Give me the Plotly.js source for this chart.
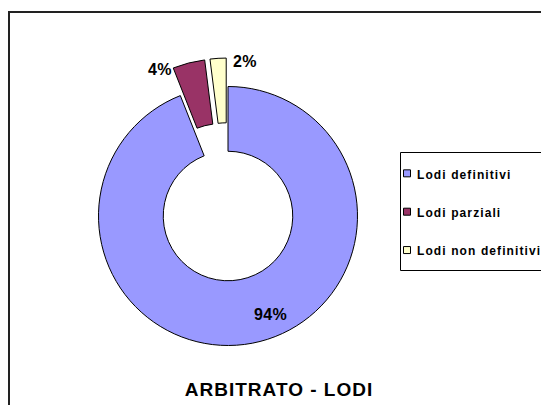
<!DOCTYPE html>
<html><head><meta charset="utf-8">
<script src="https://cdn.plot.ly/plotly-3.0.1.min.js"></script>
<style>
html,body{margin:0;padding:0;background:#fff;}
#chart{width:541px;height:405px;}
.legendtext{letter-spacing:1.1px;font-weight:bold !important;}
.gtitle{letter-spacing:1px;}
.annotation-text{letter-spacing:0.4px;}
</style></head><body><div id="chart"></div>
<script>
const categories = ['Lodi definitivi', 'Lodi parziali', 'Lodi non definitivi'];
const shares = [94, 4, 2];
const pulls = [0, 0.22, 0.22];
const sliceColors = ['#9999FF', '#993366', '#FFFFCC'];
const chartTitle = 'ARBITRATO - LODI';

const W = 541, H = 405;
const cx = 228, cy = 216, R = 129.5, HOLE = 0.5;
const maxPull = Math.max.apply(null, pulls);
const half = R * (1 + maxPull);
const FONT = 'Liberation Sans, Arial, sans-serif';

// slice geometry (degrees clockwise from 12 o'clock), derived from the data
const total = shares.reduce(function (a, b) { return a + b; }, 0);
let acc = 0;
const geo = shares.map(function (v, i) {
  const a0 = acc / total * 360; acc += v; const a1 = acc / total * 360;
  return {a0: a0, a1: a1, mid: (a0 + a1) / 2, pull: pulls[i] * R};
});
function pt(angleDeg, radius, g) {
  const r = Math.PI / 180;
  const px = cx + radius * Math.sin(angleDeg * r) + g.pull * Math.sin(g.mid * r);
  const py = cy - radius * Math.cos(angleDeg * r) - g.pull * Math.cos(g.mid * r);
  return {x: px / W, y: 1 - py / H};
}
const pctText = shares.map(function (v) { return Math.round(v / total * 100) + '%'; });
const labelFont = {family: FONT, size: 16, color: '#000000', weight: 'bold'};
const pBig = pt(geo[0].mid, R * (1 + HOLE) / 2, geo[0]);
const pMid = pt(geo[1].a0, R, geo[1]);
const pSmall = pt(geo[2].a1, R, geo[2]);
const annotations = [
  {xref: 'paper', yref: 'paper', x: pBig.x, y: pBig.y, xanchor: 'center', yanchor: 'middle',
   xshift: 24, yshift: -3, text: pctText[0], showarrow: false, font: labelFont},
  {xref: 'paper', yref: 'paper', x: pMid.x, y: pMid.y, xanchor: 'right', yanchor: 'middle',
   xshift: 1, yshift: -1.5, text: pctText[1], showarrow: false, font: labelFont},
  {xref: 'paper', yref: 'paper', x: pSmall.x, y: pSmall.y, xanchor: 'left', yanchor: 'middle',
   xshift: 5, yshift: -3.5, text: pctText[2], showarrow: false, font: labelFont}
];

const trace = {
  type: 'pie',
  labels: categories.map(function (c) {
    return '<span style="font-size:12px;font-weight:bold">' + c + '</span><br>\u00a0';
  }),
  values: shares,
  pull: pulls,
  hole: HOLE,
  sort: false,
  direction: 'clockwise',
  rotation: 0,
  marker: {colors: sliceColors, line: {color: '#000000', width: 1}},
  textinfo: 'none',
  domain: {x: [(cx - half) / W, (cx + half) / W], y: [1 - (cy + half) / H, 1 - (cy - half) / H]},
  hoverinfo: 'none'
};

const layout = {
  width: W, height: H,
  margin: {l: 0, r: 0, t: 0, b: 0, autoexpand: false},
  paper_bgcolor: '#ffffff',
  showlegend: true,
  legend: {
    x: 377 / W, xanchor: 'left', y: 1 - 158 / H, yanchor: 'top',
    bgcolor: 'rgba(0,0,0,0)', borderwidth: 0, valign: 'top',
    font: {family: FONT, size: 13.6, color: '#000000', weight: 'bold'},
    traceorder: 'normal'
  },
  title: {
    text: chartTitle, x: 279 / W, xanchor: 'center', xref: 'paper',
    y: 1 - 389.5 / H, yanchor: 'middle', yref: 'paper',
    font: {family: FONT, size: 19, color: '#000000', weight: 'bold'}
  },
  annotations: annotations,
  shapes: [
    {type: 'rect', xref: 'paper', yref: 'paper', x0: 9 / W, x1: 1.05, y0: -0.05, y1: 1 - 12 / H,
     line: {color: '#222222', width: 2}, fillcolor: 'rgba(0,0,0,0)', layer: 'below'},
    {type: 'rect', xref: 'paper', yref: 'paper', x0: 400.5 / W, x1: 1.05, y0: 1 - 270.5 / H, y1: 1 - 152.5 / H,
     line: {color: '#000000', width: 1}, fillcolor: 'rgba(0,0,0,0)', layer: 'below'}
  ]
};

Plotly.newPlot('chart', [trace], layout, {staticPlot: true, displayModeBar: false}).then(function () {
  document.querySelectorAll('.legendpie').forEach(function (p) {
    p.setAttribute('d', 'M13.5,3.5H6.5V-3.5H13.5Z');
  });
});
</script></body></html>
